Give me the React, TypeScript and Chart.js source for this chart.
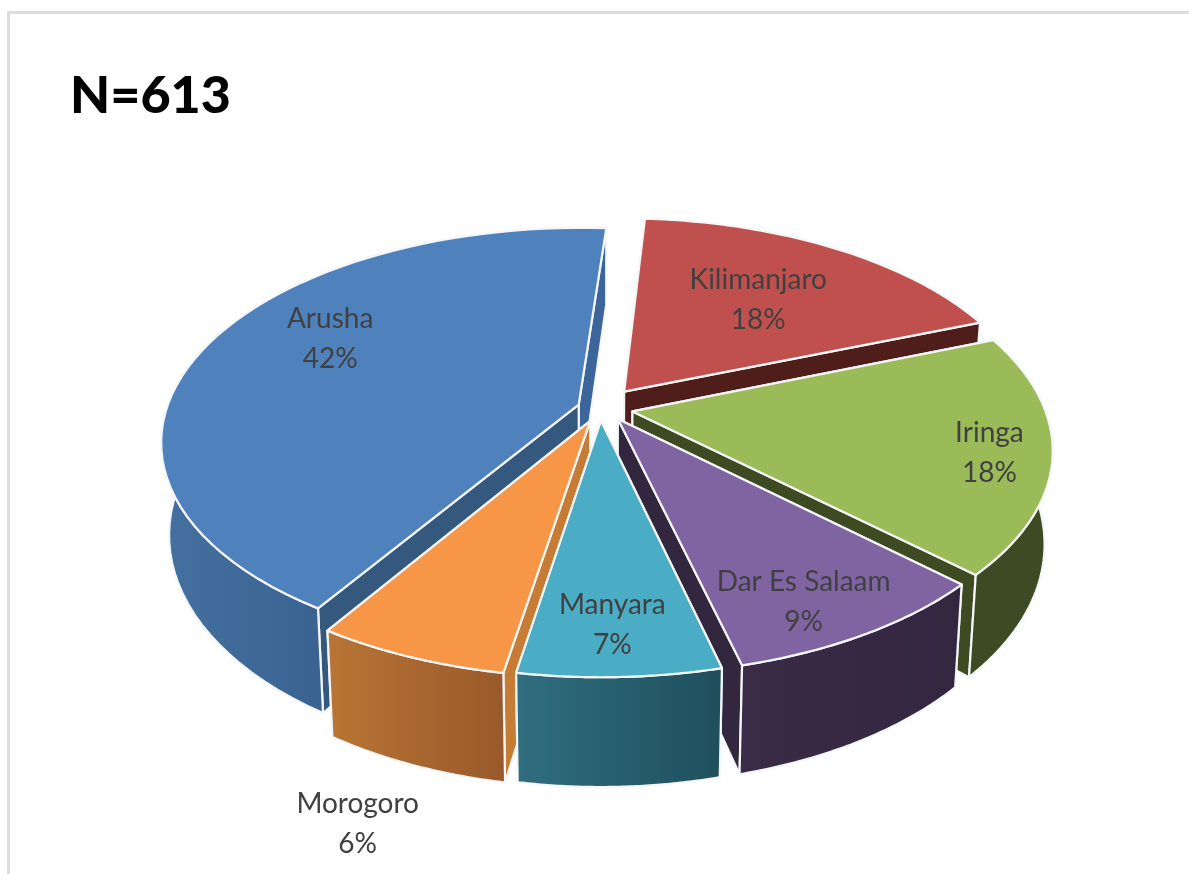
import React, { useEffect, useRef } from "react";
import { Chart, registerables } from "chart.js";

Chart.register(...registerables);

const categories = ["Kilimanjaro", "Iringa", "Dar Es Salaam", "Manyara", "Morogoro", "Arusha"];
const shares = [18, 18, 9, 6.6, 6.3, 42.1];
const explodePx = [165, 132, 110, 99, 107, 90];
const explodeTurn = [0, 0, -10, 0, 0, 0];
const topColors = ["#C0504D", "#9BBB59", "#8064A2", "#4BACC6", "#F79646", "#4F81BD"];
const rimLeft = ["#4d1d1c", "#3e4a23", "#3a2b47", "#2f6e7f", "#b87535", "#44709f"];
const rimRight = ["#4d1d1c", "#3e4a23", "#33263f", "#1f4f5c", "#99592a", "#3a6391"];
const faceStart = ["#4f1e1a", "#3e4a22", "#33263f", "#2f6e7f", "#c77c36", "#35587f"];
const faceEnd = ["#4f1e1a", "#3e4a22", "#33263f", "#2f6e7f", "#c77c36", "#3b659b"];
const paintOrder = [0, 1, 5, 2, 4, 3];
const labelRadius = [0.61, 0.855, 0.845, 0.825, 1.49, 0.726];
const labelAngleShift = [0, 1.7, 3.2, 0.5, -4.9, 9.5];

const TILT = 0.505;
const PERSPECTIVE = 0.17;
const DEPTH = 90;
const SQUEEZE = 0.018;

type P = [number, number];

const explodeOf = (arc: any, i: number): P => {
  const dir = (arc.startAngle + arc.endAngle) / 2 + (explodeTurn[i] * Math.PI) / 180;
  const ex = arc.options.offset / 4 / arc.outerRadius;
  return [Math.cos(dir) * ex, Math.sin(dir) * ex];
};

const tiltedPie = {
  id: "tiltedPie",
  beforeDatasetDraw(chart: any) {
    const ctx: CanvasRenderingContext2D = chart.ctx;
    const arcs = chart.getDatasetMeta(0).data;
    const project = (arc: any, ux: number, uy: number, z: number): P => {
      const R = arc.outerRadius;
      const w = 1 / (1 - PERSPECTIVE * uy);
      return [arc.x + R * ux * w * (1 - SQUEEZE * z), arc.y + TILT * R * uy * w + DEPTH * z * w];
    };
    const poly = (pts: P[], fill: string | CanvasGradient) => {
      ctx.beginPath();
      pts.forEach((p, i) => (i ? ctx.lineTo(p[0], p[1]) : ctx.moveTo(p[0], p[1])));
      ctx.closePath();
      ctx.fillStyle = fill;
      ctx.fill();
      ctx.lineWidth = 2.2;
      ctx.lineJoin = "round";
      ctx.strokeStyle = "#f4f6f8";
      ctx.stroke();
    };
    ctx.save();
    paintOrder.forEach((i) => {
      const arc = arcs[i];
      const [ox, oy] = explodeOf(arc, i);
      const steps = 60;
      const rim: [number, number][] = [];
      for (let s = 0; s <= steps; s++) {
        const a = arc.startAngle + ((arc.endAngle - arc.startAngle) * s) / steps;
        rim.push([ox + Math.cos(a), oy + Math.sin(a)]);
      }
      const tip: [number, number] = [ox, oy];
      const face = (edge: [number, number], color: string) =>
        poly(
          [project(arc, tip[0], tip[1], 0), project(arc, edge[0], edge[1], 0), project(arc, edge[0], edge[1], 1), project(arc, tip[0], tip[1], 1)],
          color
        );
      const first = rim[0];
      const last = rim[steps];
      if (first[1] < last[1]) {
        face(first, faceStart[i]);
        face(last, faceEnd[i]);
      } else {
        face(last, faceEnd[i]);
        face(first, faceStart[i]);
      }
      const visible = rim.filter((u) => u[1] >= -0.05);
      if (visible.length > 1) {
        const xs = visible.map((u) => project(arc, u[0], u[1], 0)[0]);
        const grad = ctx.createLinearGradient(Math.min(...xs), 0, Math.max(...xs), 0);
        grad.addColorStop(0, rimLeft[i]);
        grad.addColorStop(1, rimRight[i]);
        const wall = [
          ...visible.map((u) => project(arc, u[0], u[1], 0)),
          ...visible.slice().reverse().map((u) => project(arc, u[0], u[1], 1)),
        ];
        poly(wall, grad);
      }
      poly([project(arc, tip[0], tip[1], 0), ...rim.map((u) => project(arc, u[0], u[1], 0))], arc.options.backgroundColor);
    });
    ctx.restore();
    return false;
  },
  afterDatasetsDraw(chart: any) {
    const ctx: CanvasRenderingContext2D = chart.ctx;
    const arcs = chart.getDatasetMeta(0).data;
    const total = shares.reduce((a, b) => a + b, 0);
    ctx.save();
    ctx.font = "28px Lato";
    ctx.fillStyle = "#404040";
    ctx.textAlign = "center";
    ctx.textBaseline = "middle";
    arcs.forEach((arc: any, i: number) => {
      const [ox, oy] = explodeOf(arc, i);
      const mid = (arc.startAngle + arc.endAngle) / 2;
      const a = mid + (labelAngleShift[i] * Math.PI) / 180;
      const ux = ox + Math.cos(a) * labelRadius[i];
      const uy = oy + Math.sin(a) * labelRadius[i];
      const w = 1 / (1 - PERSPECTIVE * uy);
      const x = arc.x + arc.outerRadius * ux * w;
      const y = arc.y + TILT * arc.outerRadius * uy * w;
      ctx.fillText(categories[i], x, y - 20);
      ctx.fillText(Math.round((shares[i] / total) * 100) + "%", x, y + 20);
    });
    ctx.restore();
  },
};

export default function App() {
  const ref = useRef<HTMLCanvasElement>(null);
  useEffect(() => {
    const chart = new Chart(ref.current!, {
      type: "pie",
      data: {
        labels: categories,
        datasets: [
          {
            data: shares,
            backgroundColor: topColors,
            offset: explodePx,
            radius: 412,
            borderWidth: 0,
          } as any,
        ],
      },
      options: {
        responsive: false,
        animation: false,
        rotation: 4,
        layout: { padding: { top: 65, left: 70, right: 59, bottom: 185 } },
        plugins: {
          legend: { display: false },
          tooltip: { enabled: false },
          title: {
            display: true,
            text: "N=613",
            align: "start",
            color: "#000000",
            font: { family: "Lato", size: 52, weight: "900" },
            padding: 0,
          },
        },
      },
      plugins: [tiltedPie],
    } as any);
    return () => chart.destroy();
  }, []);
  return (
    <div style={{ position: "fixed", inset: 0, background: "#fff", overflow: "hidden", filter: "blur(0.5px)" }}>
      <div style={{ position: "absolute", left: 7, top: 11, right: 0, bottom: 0, borderTop: "3px solid #dcdcdc", borderLeft: "3px solid #dcdcdc" }} />
      <canvas ref={ref} width={1189} height={874} style={{ position: "absolute", left: 0, top: 0, width: 1189, height: 874 }} />
    </div>
  );
}
